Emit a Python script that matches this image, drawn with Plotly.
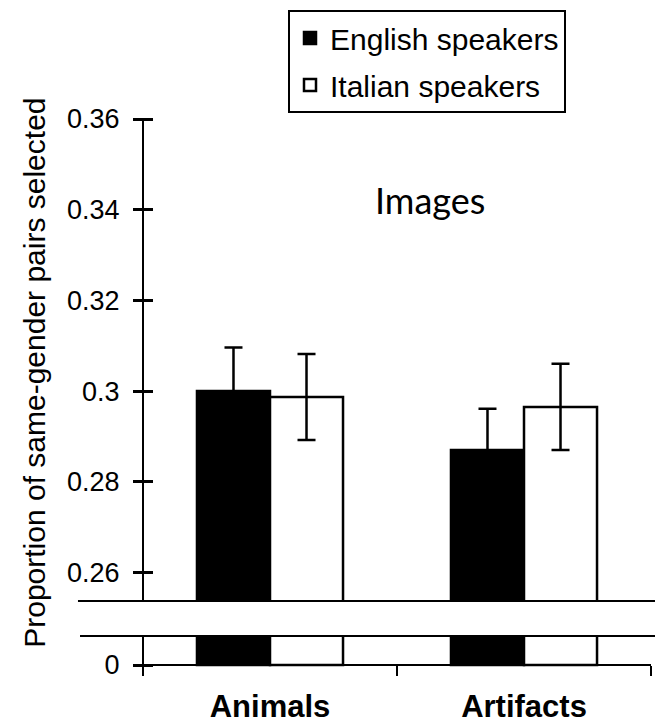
import plotly.graph_objects as go

categories = ["Animals", "Artifacts"]
english = [0.300, 0.287]
english_err = [0.0096, 0.0091]
italian = [0.2987, 0.2965]
italian_err = [0.0095, 0.0095]
upper_ticks = [0.26, 0.28, 0.30, 0.32, 0.34, 0.36]
upper_ticktext = ["0.26", "0.28", "0.3", "0.32", "0.34", "0.36"]
lower_ticks = [0]
lower_ticktext = ["0"]

FONT = "Arial, Liberation Sans, sans-serif"
fig = go.Figure()

# upper panel (with error bars)
fig.add_trace(go.Bar(x=categories, y=english, name="English speakers",
                     marker=dict(color="black", line=dict(color="black", width=2.5)),
                     error_y=dict(type="data", array=english_err, color="black", thickness=2.5, width=9),
                     xaxis="x2", yaxis="y", legendgroup="e", legendrank=1))
fig.add_trace(go.Bar(x=categories, y=italian, name="Italian speakers",
                     marker=dict(color="white", line=dict(color="black", width=2.5)),
                     error_y=dict(type="data", array=italian_err, color="black", thickness=2.5, width=9),
                     xaxis="x2", yaxis="y", legendgroup="i", legendrank=2))
# lower panel (broken axis near zero)
fig.add_trace(go.Bar(x=categories, y=english, showlegend=False,
                     marker=dict(color="black", line=dict(color="black", width=2.5)),
                     xaxis="x", yaxis="y2", hoverinfo="skip"))
fig.add_trace(go.Bar(x=categories, y=italian, showlegend=False,
                     marker=dict(color="white", line=dict(color="black", width=2.5)),
                     xaxis="x", yaxis="y2", hoverinfo="skip"))

UP_DOM = [72 / 554, 1]
LO_DOM = [0, 37 / 554]
UP_RANGE = [0.2537, 0.36]
LO_RANGE = [-0.0276, 0.1]

W, H = 655, 715  # page body adds an 8px offset

# y axes are shifted right by half the tick length so ticks cross the axis line
yaxis_common = dict(anchor="free", position=0, side="left", shift=10, showline=False,
                    ticks="outside", ticklen=20, tickwidth=3, tickcolor="black", showgrid=False,
                    zeroline=False, automargin=False,
                    tickfont=dict(family=FONT, size=27, color="black"), ticklabelstandoff=8)

fig.update_layout(
    width=W, height=H,
    margin=dict(l=135, r=12, t=111, b=50, autoexpand=False),
    paper_bgcolor="white", plot_bgcolor="white",
    barmode="group", bargap=0.425, bargroupgap=0,
    font=dict(family=FONT, color="black"),
    xaxis=dict(anchor="free", position=8 / 554, showline=True, linecolor="black", linewidth=2,
               ticks="outside", ticklen=10, tickwidth=2, tickcolor="black", tickson="boundaries",
               range=[-0.5, 1.5], showgrid=False, zeroline=False, automargin=False,
               tickfont=dict(family=FONT, size=31, color="black", weight="bold"), ticklabelstandoff=14),
    xaxis2=dict(matches="x", anchor="y", visible=False, range=[-0.5, 1.5]),
    yaxis=dict(domain=UP_DOM, range=UP_RANGE, tickvals=upper_ticks, ticktext=upper_ticktext,
               **yaxis_common),
    yaxis2=dict(domain=LO_DOM, range=LO_RANGE, tickvals=lower_ticks, ticktext=lower_ticktext,
                **yaxis_common),
    legend=dict(xref="container", yref="container", x=280 / W, y=1 - 2 / H,
                xanchor="left", yanchor="top", bordercolor="black",
                borderwidth=2, bgcolor="white", font=dict(family=FONT, size=30, color="black"),
                traceorder="grouped", tracegroupgap=5, itemwidth=30),
    showlegend=True,
    shapes=[
        # vertical axis lines of the two panels
        dict(type="line", xref="paper", yref="y domain", x0=0, x1=0, y0=0, y1=1,
             line=dict(color="black", width=2)),
        dict(type="line", xref="paper", yref="y2 domain", x0=0, x1=0, y0=0, y1=1,
             line=dict(color="black", width=2)),
        # axis-break lines
        dict(type="line", xref="paper", yref="y domain", x0=-0.128, x1=1.03, y0=0, y1=0,
             line=dict(color="black", width=2)),
        dict(type="line", xref="paper", yref="y2 domain", x0=-0.124, x1=1.03, y0=1, y1=1,
             line=dict(color="black", width=2)),
    ],
    annotations=[
        dict(text="Images", xref="paper", yref="paper", x=0.565, y=0.854, showarrow=False,
             xanchor="center", yanchor="middle",
             font=dict(family="Lato, Open Sans, sans-serif", size=36, color="black")),
        dict(text="Proportion of same-gender pairs selected", xref="paper", yref="paper",
             x=-0.215, y=0.5415, textangle=-90, showarrow=False, xanchor="center", yanchor="middle",
             font=dict(family=FONT, size=30, color="black")),
    ],
)

fig.write_html("out.html")
